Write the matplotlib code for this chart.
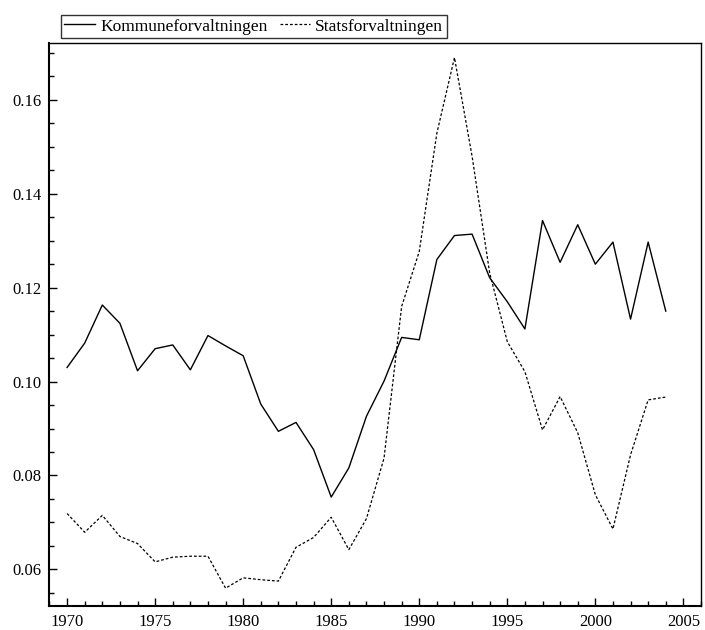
import matplotlib.pyplot as plt
from matplotlib.ticker import MultipleLocator

years = list(range(1970, 2005))

kommune = [0.1030, 0.1082, 0.1163, 0.1124, 0.1023, 0.1070, 0.1078, 0.1025, 0.1098, 0.1076,
           0.1055, 0.0952, 0.0894, 0.0913, 0.0855, 0.0754, 0.0816, 0.0926, 0.1001, 0.1094,
           0.1089, 0.1260, 0.1311, 0.1314, 0.1221, 0.1170, 0.1112, 0.1343, 0.1254, 0.1334,
           0.1250, 0.1297, 0.1133, 0.1297, 0.1150]

stats = [0.0719, 0.0679, 0.0715, 0.0670, 0.0655, 0.0616, 0.0626, 0.0628, 0.0628, 0.0560,
         0.0582, 0.0578, 0.0575, 0.0647, 0.0668, 0.0711, 0.0642, 0.0708, 0.0837, 0.1160,
         0.1277, 0.1529, 0.1690, 0.1480, 0.1231, 0.1085, 0.1021, 0.0897, 0.0968, 0.0891,
         0.0759, 0.0686, 0.0844, 0.0961, 0.0967]

plt.rcParams['font.family'] = ['Liberation Serif', 'DejaVu Serif']

fig = plt.figure(figsize=(7.05, 6.3), dpi=100)
ax = fig.add_axes([0.0702, 0.0381, 0.9241, 0.8936])

l1, = ax.plot(years, kommune, color='black', lw=1.0, label='Kommuneforvaltningen')
l2, = ax.plot(years, stats, color='black', lw=0.9, linestyle=(0, (2.2, 1.6)),
              label='Statsforvaltningen')

ax.set_xlim(1969, 2006)
ax.set_ylim(0.0522, 0.1721)
ax.xaxis.set_minor_locator(MultipleLocator(1))
ax.yaxis.set_minor_locator(MultipleLocator(0.005))
ax.set_xticks(range(1970, 2006, 5))
ax.set_yticks([0.06, 0.08, 0.10, 0.12, 0.14, 0.16])
ax.set_yticklabels(['0.06', '0.08', '0.10', '0.12', '0.14', '0.16'])

ax.tick_params(which='both', direction='in', labelsize=12, width=1)
ax.tick_params(which='major', length=6, pad=6)
ax.tick_params(which='minor', length=3.5)
ax.tick_params(axis='x', which='both', top=False)
ax.tick_params(axis='y', which='both', right=False)

for side in ['left', 'bottom']:
    ax.spines[side].set_linewidth(1.5)
for side in ['top', 'right']:
    ax.spines[side].set_linewidth(1.0)

leg = fig.legend(handles=[l1, l2], loc='lower left', ncol=2,
                 bbox_to_anchor=(61 / 705, (630 - 38) / 630),
                 borderaxespad=0, fontsize=12.5, frameon=True, fancybox=False,
                 handlelength=1.75, handletextpad=0.3, columnspacing=0.7,
                 borderpad=0.2)
leg.get_frame().set_edgecolor('black')
leg.get_frame().set_linewidth(1.0)

fig.savefig('out.png', dpi=100)
